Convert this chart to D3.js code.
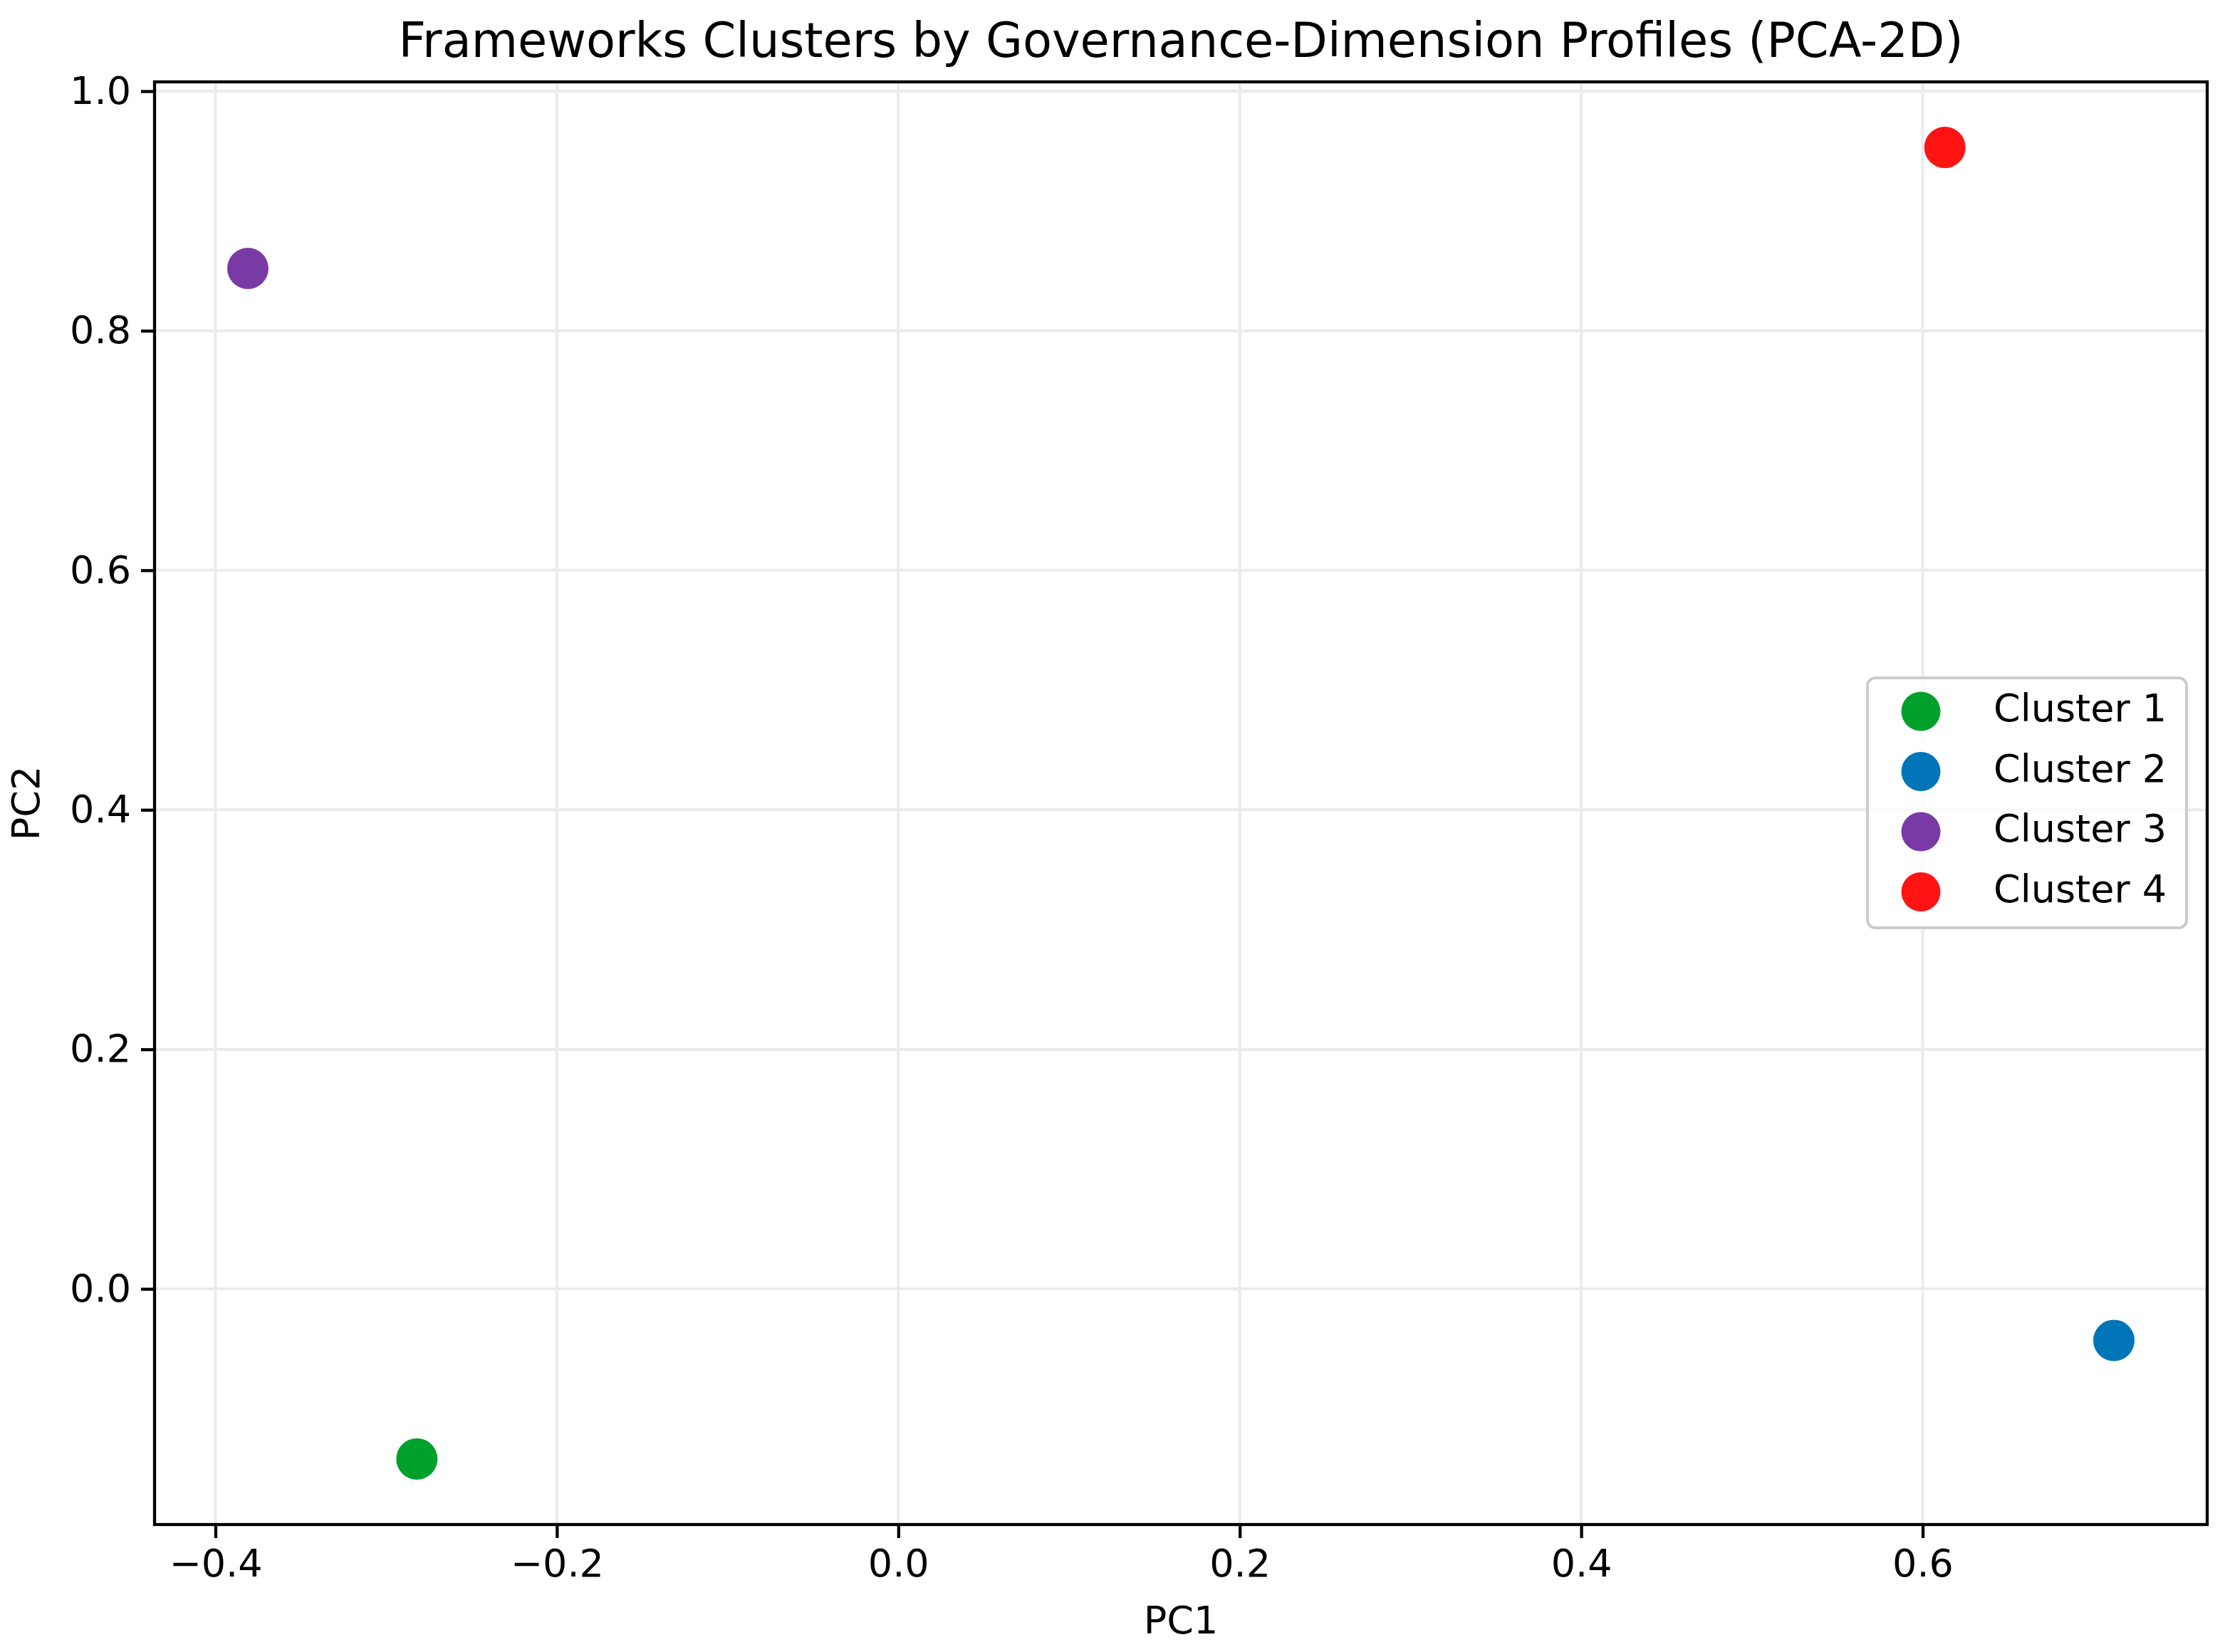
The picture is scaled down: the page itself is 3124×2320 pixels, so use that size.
<!DOCTYPE html>
<html>
<head>
<meta charset="utf-8">
<script src="https://cdn.jsdelivr.net/npm/d3@7"></script>
<style>
html,body{margin:0;padding:0;background:#fff;}
svg{display:block;}
text{font-family:"DejaVu Sans",sans-serif;fill:#000;}
</style>
</head>
<body>
<script>
// ---- data ----
const clusters = ["Cluster 1", "Cluster 2", "Cluster 3", "Cluster 4"];
const pc1 = [-0.282, 0.712, -0.381, 0.613];
const pc2 = [-0.142, -0.043, 0.852, 0.953];
const colors = ["#00a02c", "#0076b8", "#7a3aa6", "#ff1414"];
const xTicks = [-0.4, -0.2, 0.0, 0.2, 0.4, 0.6];
const yTicks = [0.0, 0.2, 0.4, 0.6, 0.8, 1.0];
const titleText = "Frameworks Clusters by Governance-Dimension Profiles (PCA-2D)";
const xLabel = "PC1";
const yLabel = "PC2";

const W = 3124, H = 2320;
const M = {left: 217, right: 3099, top: 115, bottom: 2141};

const svg = d3.select("body").append("svg").attr("width", W).attr("height", H);

function padded(arr) {
  const [a, b] = d3.extent(arr);
  const m = (b - a) * 0.05;
  return [a - m, b + m];
}
const x = d3.scaleLinear().domain(padded(pc1)).range([M.left, M.right]);
const y = d3.scaleLinear().domain(padded(pc2)).range([M.bottom, M.top]);

// grid
const grid = svg.append("g");
grid.selectAll("line.gx").data(xTicks).enter().append("line")
  .attr("x1", d => x(d)).attr("x2", d => x(d))
  .attr("y1", M.top).attr("y2", M.bottom)
  .attr("stroke", "#ebebeb").attr("stroke-width", 4);
grid.selectAll("line.gy").data(yTicks).enter().append("line")
  .attr("y1", d => y(d)).attr("y2", d => y(d))
  .attr("x1", M.left).attr("x2", M.right)
  .attr("stroke", "#ebebeb").attr("stroke-width", 4);

// points
const data = clusters.map((c, i) => ({c, x: pc1[i], y: pc2[i], col: colors[i]}));
svg.append("g").selectAll("circle").data(data).enter().append("circle")
  .attr("cx", d => x(d.x)).attr("cy", d => y(d.y)).attr("r", 29)
  .attr("fill", d => d.col);

// axes
const fmt = d3.format(".1f");
const xAxis = svg.append("g").attr("transform", `translate(0,${M.bottom})`)
  .call(d3.axisBottom(x).tickValues(xTicks).tickFormat(fmt).tickSize(19).tickPadding(16));
const yAxis = svg.append("g").attr("transform", `translate(${M.left},0)`)
  .call(d3.axisLeft(y).tickValues(yTicks).tickFormat(fmt).tickSize(19).tickPadding(14));
[xAxis, yAxis].forEach(g => {
  g.select(".domain").remove();
  g.selectAll(".tick line").attr("stroke", "#000").attr("stroke-width", 4.3);
  g.selectAll(".tick text").attr("font-size", 54).attr("font-family", "DejaVu Sans").attr("fill", "#000");
});

// frame
svg.append("rect").attr("x", M.left).attr("y", M.top)
  .attr("width", M.right - M.left).attr("height", M.bottom - M.top)
  .attr("fill", "none").attr("stroke", "#000").attr("stroke-width", 4.3);

// title and labels
svg.append("text").attr("x", (M.left + M.right) / 2).attr("y", 80)
  .attr("text-anchor", "middle").attr("font-size", 67).text(titleText);
svg.append("text").attr("x", (M.left + M.right) / 2).attr("y", 2294)
  .attr("text-anchor", "middle").attr("font-size", 54).text(xLabel);
svg.append("text").attr("transform", `translate(55,${(M.top + M.bottom) / 2}) rotate(-90)`)
  .attr("text-anchor", "middle").attr("font-size", 54).text(yLabel);

// legend
const lg = svg.append("g");
lg.append("rect").attr("x", 2622).attr("y", 952).attr("width", 448).attr("height", 351)
  .attr("rx", 11).attr("fill", "#fff").attr("fill-opacity", 0.8)
  .attr("stroke", "#cccccc").attr("stroke-width", 4);
const items = lg.selectAll("g.item").data(data).enter().append("g")
  .attr("transform", (d, i) => `translate(0,${999 + i * 84.5})`);
items.append("circle").attr("cx", 2697).attr("cy", 0).attr("r", 27.5).attr("fill", d => d.col);
items.append("text").attr("x", 2799).attr("y", 14).attr("font-size", 54).text(d => d.c);
</script>
</body>
</html>
